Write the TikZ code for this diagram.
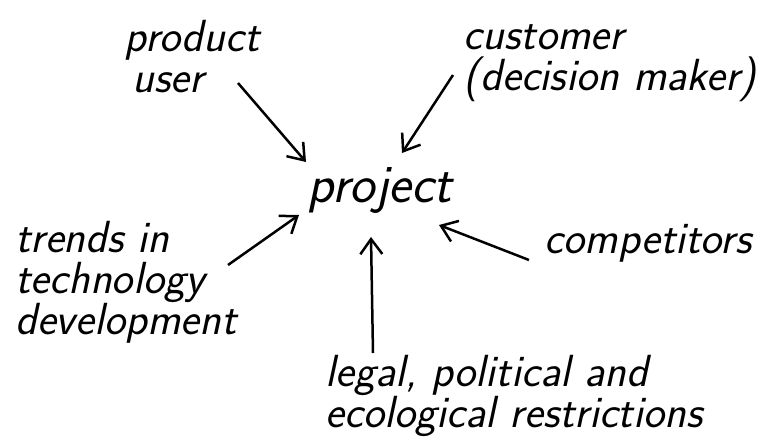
\documentclass[tikz,border=0pt]{standalone}
\usepackage{tikz}
\usetikzlibrary{arrows.meta}
\usetikzlibrary{positioning}
\tikzset{hand/.style={font=\fontsize{45}{41}\selectfont\sffamily\itshape,inner sep=0pt,align=left},
push/.style={line width=2.5pt,-{Straight Barb[length=15pt,width=22pt,line width=2.5pt]}}}
\begin{document}
\begin{tikzpicture}[x=1pt,y=-1pt]
\useasboundingbox (0,0) rectangle (769,441);
\node[hand,font=\fontsize{54}{50}\selectfont\sffamily\itshape] (project) at (380,190) {project};
\node[hand] (user) at (192,57) {product\\\hspace{8pt}user};
\node[hand] (customer) at (610,63) {customer\\(decision maker)};
\node[hand] (trends) at (126,282) {trends in\\technology\\development};
\node[hand] (competitors) at (648,243) {competitors};
\node[hand] (legal) at (514,396) {legal, political and\\ecological restrictions};
\coordinate (u0) at (238,83);
\coordinate (u1) at (306,162);
\coordinate (c0) at (453,75);
\coordinate (c1) at (402,153);
\coordinate (t0) at (228,265);
\coordinate (t1) at (299,215);
\coordinate (k0) at (529,260);
\coordinate (k1) at (439,225);
\coordinate (l0) at (373,353);
\coordinate (l1) at (371,237);
\draw[push] (u0) -- (u1);
\draw[push] (c0) -- (c1);
\draw[push] (t0) -- (t1);
\draw[push] (k0) -- (k1);
\draw[push] (l0) -- (l1);
\end{tikzpicture}
\end{document}
